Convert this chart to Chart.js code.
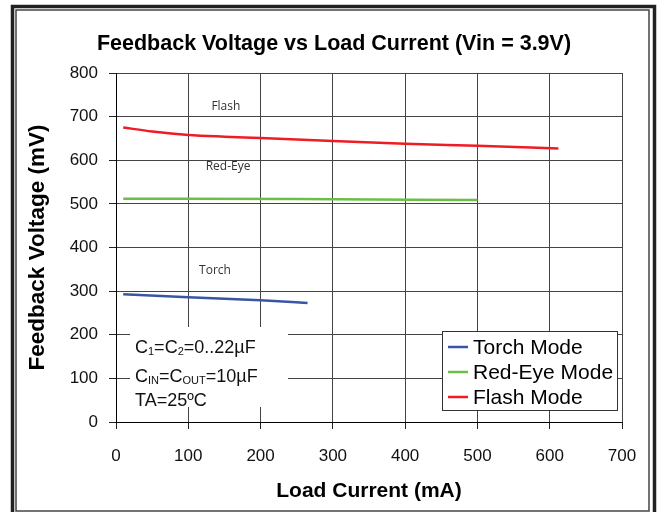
<!DOCTYPE html>
<html lang="en">
<head>
    <meta charset="UTF-8">
    <title>Feedback Voltage vs Load Current</title>
    <script src="https://cdn.jsdelivr.net/npm/chart.js"></script>
    <style>
        html, body { margin: 0; padding: 0; background: #fff; }
        #wrap { width: 665px; height: 512px; }
    </style>
</head>
<body>
    <div id="wrap"><canvas id="fbChart" width="665" height="512"></canvas></div>

    <script>
        // data
        const torchCurrent = [10, 100, 200, 265];
        const torchVoltage = [293, 286, 279, 273];
        const redEyeCurrent = [10, 250, 500];
        const redEyeVoltage = [512, 511, 509];
        const flashCurrent = [10, 50, 100, 150, 200, 300, 400, 500, 612];
        const flashVoltage = [675, 666, 658, 654, 651, 644, 638, 633, 627];

        const seriesNames = ['Torch Mode', 'Red-Eye Mode', 'Flash Mode'];
        const seriesColors = ['#3b55a5', '#6dbe46', '#ee1d25'];

        // small curve labels (in data units)
        const noteText = ['Flash', 'Red-Eye', 'Torch'];
        const noteX = [152, 155, 137];
        const noteY = [724, 586, 348];

        const conditions = [
            [['C', 0], ['1', 1], ['=C', 0], ['2', 1], ['=0..22\u00b5F', 0]],
            [['C', 0], ['IN', 1], ['=C', 0], ['OUT', 1], ['=10\u00b5F', 0]],
            [['TA=25\u00baC', 0]]
        ];

        const xTicks = [0, 100, 200, 300, 400, 500, 600, 700];
        const yTicks = [0, 100, 200, 300, 400, 500, 600, 700, 800];

        function points(xs, ys) {
            return xs.map((x, i) => ({ x: x, y: ys[i] }));
        }

        const FONT = 'Arial, "Liberation Sans", sans-serif';

        // frame, title, text box, notes and legend
        const decor = {
            id: 'decor',
            beforeDraw(chart) {
                const c = chart.ctx;
                c.save();
                c.fillStyle = '#fff';
                c.fillRect(0, 0, chart.width, chart.height);
                c.restore();
            },
            beforeDatasetsDraw(chart) {
                const c = chart.ctx;
                c.save();
                // white box holding the test conditions
                c.fillStyle = '#fff';
                c.fillRect(130, 327, 158, 80);
                c.fillStyle = '#111';
                c.textBaseline = 'middle';
                const rowY = [348, 377, 401];
                conditions.forEach((row, r) => {
                    let x = 135;
                    row.forEach(([txt, sub]) => {
                        c.font = sub ? '11px ' + FONT : '18px ' + FONT;
                        c.fillText(txt, x, rowY[r] + (sub ? 4 : 0));
                        x += c.measureText(txt).width;
                    });
                });
                // curve names
                const xs = chart.scales.x, ys = chart.scales.y;
                c.font = '12px "Open Sans", sans-serif';
                c.fillStyle = '#333';
                c.textAlign = 'center';
                noteText.forEach((t, i) => {
                    c.fillText(t, xs.getPixelForValue(noteX[i]), ys.getPixelForValue(noteY[i]));
                });
                c.restore();
            },
            afterDraw(chart) {
                const c = chart.ctx;
                c.save();
                // title
                c.fillStyle = '#000';
                c.font = 'bold 21.5px ' + FONT;
                c.textAlign = 'center';
                c.textBaseline = 'middle';
                c.fillText('Feedback Voltage vs Load Current (Vin = 3.9V)', 334, 44);

                // legend
                c.fillStyle = '#fff';
                c.fillRect(442, 331, 175, 80);
                c.strokeStyle = '#333';
                c.lineWidth = 1;
                c.strokeRect(442.5, 331.5, 175, 79);
                c.textAlign = 'left';
                c.font = '21px ' + FONT;
                chart.data.datasets.forEach((ds, i) => {
                    const y = 347 + i * 25;
                    c.strokeStyle = ds.borderColor;
                    c.lineWidth = 2.5;
                    c.beginPath();
                    c.moveTo(448, y);
                    c.lineTo(468, y);
                    c.stroke();
                    c.fillStyle = '#000';
                    c.fillText(ds.label, 473, y + 1);
                });

                // double frame
                c.strokeStyle = '#222';
                c.lineWidth = 3.5;
                c.strokeRect(12.5, 6.5, 642, 520);
                c.strokeStyle = '#444';
                c.lineWidth = 1.5;
                c.strokeRect(16, 10, 633, 501);
                c.restore();
            }
        };

        const ctx = document.getElementById('fbChart').getContext('2d');
        const fbChart = new Chart(ctx, {
            type: 'line',
            data: {
                datasets: [
                    { label: seriesNames[0], data: points(torchCurrent, torchVoltage), borderColor: seriesColors[0] },
                    { label: seriesNames[1], data: points(redEyeCurrent, redEyeVoltage), borderColor: seriesColors[1] },
                    { label: seriesNames[2], data: points(flashCurrent, flashVoltage), borderColor: seriesColors[2] }
                ].map(ds => Object.assign(ds, {
                    borderWidth: 2.5,
                    pointRadius: 0,
                    fill: false,
                    cubicInterpolationMode: 'monotone'
                }))
            },
            options: {
                responsive: false,
                animation: false,
                devicePixelRatio: 1,
                layout: { padding: { top: 73, right: 43, left: 0, bottom: 0 } },
                plugins: {
                    legend: { display: false },
                    title: { display: false },
                    tooltip: { enabled: false }
                },
                scales: {
                    x: {
                        type: 'linear',
                        min: 0,
                        max: 700,
                        afterBuildTicks: s => { s.ticks = xTicks.map(v => ({ value: v })); },
                        afterFit: s => { s.height = 90; },
                        grid: { color: '#444', tickColor: '#222', tickLength: 7 },
                        border: { color: '#000', width: 1 },
                        ticks: { color: '#111', font: { family: FONT, size: 17 }, padding: 17, maxRotation: 0 },
                        title: {
                            display: true,
                            text: 'Load Current (mA)',
                            color: '#000',
                            font: { family: FONT, size: 21, weight: 'bold' },
                            padding: { top: 0, bottom: 8 }
                        }
                    },
                    y: {
                        type: 'linear',
                        min: 0,
                        max: 800,
                        afterBuildTicks: s => { s.ticks = yTicks.map(v => ({ value: v })); },
                        afterFit: s => { s.width = 116; },
                        grid: { color: '#444', tickColor: '#222', tickLength: 7 },
                        border: { color: '#000', width: 1 },
                        ticks: { color: '#111', font: { family: FONT, size: 17 }, padding: 11 },
                        title: {
                            display: true,
                            text: 'Feedback Voltage (mV)',
                            color: '#000',
                            font: { family: FONT, size: 22.5, weight: 'bold' },
                            padding: { top: 24, bottom: 0 }
                        }
                    }
                }
            },
            plugins: [decor]
        });
    </script>
</body>
</html>
